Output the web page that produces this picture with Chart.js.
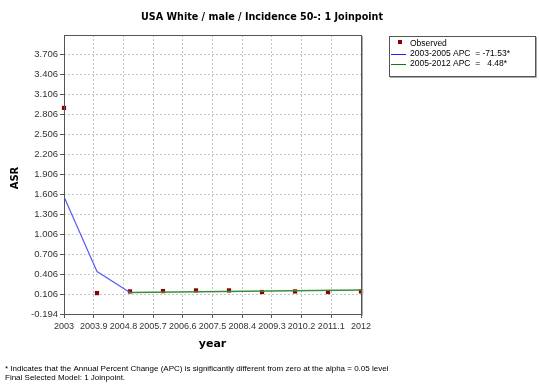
<!DOCTYPE html>
<html>
<head>
    <title>Joinpoint</title>
    <meta charset="UTF-8">
    <script src="https://cdn.jsdelivr.net/npm/chart.js"></script>
    <style>
        body { margin: 0; padding: 0; background: white; }
        #wrap { width: 539px; height: 392px; position: relative; }
    </style>
</head>
<body>
    <div id="wrap"><canvas id="chart" width="539" height="392"></canvas></div>
    <script>
        // dados
        var years = [2003, 2004, 2005, 2006, 2007, 2008, 2009, 2010, 2011, 2012];
        var observed = [2.90, 0.12, 0.145, 0.15, 0.16, 0.16, 0.136, 0.145, 0.136, 0.145];
        var seg1Years = [2003, 2004, 2005];
        var seg1Values = [1.567, 0.444, 0.127];
        var seg2Years = [2005, 2012];
        var seg2Values = [0.127, 0.166];
        var xTicks = [2003, 2003.9, 2004.8, 2005.7, 2006.6, 2007.5, 2008.4, 2009.3, 2010.2, 2011.1, 2012];
        var yTicks = [-0.194, 0.106, 0.406, 0.706, 1.006, 1.306, 1.606, 1.906, 2.206, 2.506, 2.806, 3.106, 3.406, 3.706];

        var titleText = "USA White / male / Incidence 50-: 1 Joinpoint";
        var legendItems = ["Observed", "2003-2005 APC  = -71.53*", "2005-2012 APC  =   4.48*"];

        function pairs(xs, ys) {
            return xs.map(function(x, i) { return { x: x, y: ys[i] }; });
        }

        // desenha título, rótulos, legenda e nota
        var decor = {
            id: 'decor',
            afterDraw: function(chart) {
                var c = chart.ctx;
                var a = chart.chartArea;
                c.save();
                // moldura
                c.strokeStyle = '#555';
                c.lineWidth = 1;
                c.strokeRect(a.left + 0.5, a.top + 0.5, a.right - a.left, a.bottom - a.top);
                c.strokeStyle = '#aaa';
                c.beginPath();
                c.moveTo(a.right + 1.5, a.top + 1); c.lineTo(a.right + 1.5, a.bottom + 1.5);
                c.stroke();

                c.fillStyle = '#000';
                c.textAlign = 'center';
                c.textBaseline = 'middle';
                c.font = 'bold 9.6px "DejaVu Sans"';
                c.fillText(titleText, 262, 17);
                c.font = 'bold 11px "DejaVu Sans"';
                c.fillText('year', (a.left + a.right) / 2, 344);
                c.save();
                c.translate(15, 178);
                c.rotate(-Math.PI / 2);
                c.font = 'bold 10px "DejaVu Sans"';
                c.fillText('ASR', 0, 0);
                c.restore();

                // legenda
                c.fillStyle = '#fff';
                c.fillRect(389, 36, 147, 41);
                c.strokeStyle = '#555';
                c.strokeRect(389.5, 36.5, 146, 40);
                c.strokeStyle = '#aaa';
                c.beginPath();
                c.moveTo(536.5, 37); c.lineTo(536.5, 77.5); c.lineTo(390, 77.5);
                c.stroke();
                c.fillStyle = '#8b0000';
                c.fillRect(398, 40, 4, 4);
                c.strokeStyle = '#2020ff';
                c.beginPath(); c.moveTo(391, 54.5); c.lineTo(406, 54.5); c.stroke();
                c.strokeStyle = '#1e6e1e';
                c.beginPath(); c.moveTo(391, 64.5); c.lineTo(406, 64.5); c.stroke();
                c.fillStyle = '#000';
                c.textAlign = 'left';
                c.font = '8.5px "Liberation Sans"';
                c.fillText(legendItems[0], 410, 44);
                c.fillText(legendItems[1], 410, 54);
                c.fillText(legendItems[2], 410, 64);

                // nota
                c.font = '8px "Liberation Sans"';
                c.fillText('* Indicates that the Annual Percent Change (APC) is significantly different from zero at the alpha = 0.05 level', 5, 369);
                c.fillText('Final Selected Model: 1 Joinpoint.', 5, 378);
                c.restore();
            }
        };

        new Chart(document.getElementById('chart'), {
            type: 'scatter',
            data: {
                datasets: [
                    {
                        type: 'line',
                        data: pairs(seg1Years, seg1Values),
                        borderColor: 'rgb(90, 90, 255)',
                        borderWidth: 1.2,
                        pointRadius: 0,
                        tension: 0
                    },
                    {
                        type: 'line',
                        data: pairs(seg2Years, seg2Values),
                        borderColor: 'rgb(60, 140, 60)',
                        borderWidth: 1.5,
                        pointRadius: 0,
                        tension: 0
                    },
                    {
                        data: pairs(years, observed),
                        pointStyle: 'rect',
                        pointRadius: 3,
                        backgroundColor: '#8b0000',
                        borderColor: '#8b0000',
                        borderWidth: 0,
                        clip: false
                    }
                ]
            },
            options: {
                responsive: false,
                animation: false,
                layout: { padding: { left: 0, top: 35, right: 178, bottom: 0 } },
                plugins: { legend: { display: false }, tooltip: { enabled: false } },
                scales: {
                    x: {
                        type: 'linear',
                        min: 2003,
                        max: 2012,
                        afterBuildTicks: function(s) { s.ticks = xTicks.map(function(v) { return { value: v }; }); },
                        afterFit: function(s) { s.height = 78; },
                        ticks: {
                            autoSkip: false,
                            maxRotation: 0,
                            color: '#333',
                            font: { family: 'Liberation Sans', size: 9 },
                            padding: 3,
                            callback: function(v) { return String(Math.round(v * 10) / 10); }
                        },
                        grid: {
                            color: '#c4c4c4',
                            tickLength: 4,
                            tickColor: '#555'
                        },
                        border: { display: false, dash: [2, 2] }
                    },
                    y: {
                        min: -0.194,
                        max: 3.994,
                        afterBuildTicks: function(s) { s.ticks = yTicks.map(function(v) { return { value: v }; }); },
                        afterFit: function(s) { s.width = 64; },
                        ticks: {
                            color: '#333',
                            font: { family: 'Liberation Sans', size: 9.5 },
                            padding: 2,
                            callback: function(v) { return v.toFixed(3); }
                        },
                        grid: {
                            color: '#c4c4c4',
                            tickLength: 4,
                            tickColor: '#555'
                        },
                        border: { display: false, dash: [2, 2] }
                    }
                }
            },
            plugins: [decor]
        });
    </script>
</body>
</html>
